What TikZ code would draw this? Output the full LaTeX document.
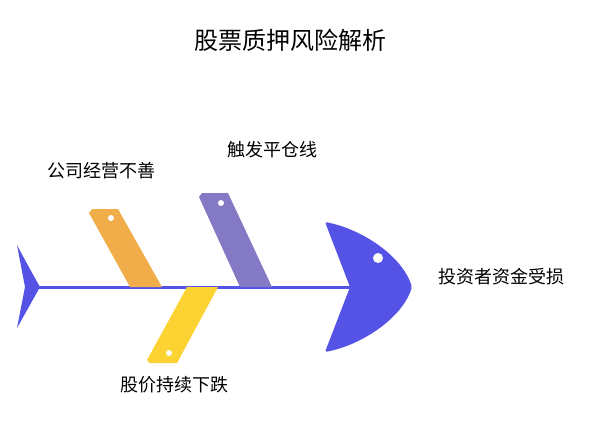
\documentclass[tikz,border=0pt]{standalone}
\usepackage{fontspec}
\setmainfont{Noto Sans CJK SC}
\definecolor{fishblue}{HTML}{5552E6}
\definecolor{boneorange}{HTML}{F1AD4A}
\definecolor{bonepurple}{HTML}{8479C4}
\definecolor{boneyellow}{HTML}{FDD233}
\begin{document}
\begin{tikzpicture}[x=1pt,y=-1pt,
  lbl/.style={font=\fontsize{18}{21}\selectfont, text=black, inner sep=0pt},
  eye/.style={fill=white, draw=none}]
\useasboundingbox (0,0) rectangle (594,445);
% title
\node[lbl, font=\fontsize{24}{27}\selectfont] (title) at (290,40) {股票质押风险解析};
% spine
\draw[fishblue, line width=3pt] (38,287) coordinate (spineL) -- (352,287) coordinate (spineR);
% tail
\fill[fishblue] (17,245) .. controls (26,262) .. (40,287) .. controls (26,312) .. (17,328) -- (25,287) -- cycle;
% head
\fill[fishblue, rounded corners=2pt] (325,222) .. controls (362,229) and (402,256) .. (412,287)
  .. controls (402,318) and (362,345) .. (325,352) -- (350,287) -- cycle;
\fill[eye] (378,258) circle (5);
% bones
\fill[boneorange] (92,209) -- (118,209) -- (162,287) -- (130,287) -- (89,213) -- cycle;
\fill[eye] (111,218) circle (3);
\fill[bonepurple] (202,193) -- (228,193) -- (272,287) -- (240,287) -- (199,197) -- cycle;
\fill[eye] (221,203) circle (3);
\fill[boneyellow] (187,287) -- (218,287) -- (177,363) -- (150,363) -- (147,360) -- cycle;
\fill[eye] (169,353) circle (3);
% labels
\node[lbl] (l1) at (101,171) {公司经营不善};
\node[lbl] (l2) at (272,150) {触发平仓线};
\node[lbl] (l3) at (174,385) {股价持续下跌};
\node[lbl] (l4) at (501,277) {投资者资金受损};
\end{tikzpicture}
\end{document}
